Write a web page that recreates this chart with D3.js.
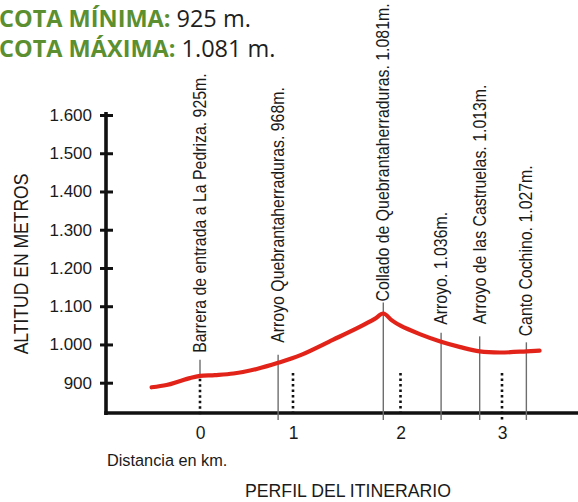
<!DOCTYPE html>
<html>
<head>
<meta charset="utf-8">
<script src="https://cdn.jsdelivr.net/npm/d3@7"></script>
<style>
  html, body { margin: 0; padding: 0; background: #fff; }
  svg { display: block; }
</style>
</head>
<body>
<script>
// Elevation profile of the route: distance (km) and altitude (m)
const profileKm   = [-0.52, -0.36, -0.22, -0.11, 0, 0.16, 0.36, 0.61, 0.84, 1.07, 1.37, 1.62, 1.76, 1.84, 1.92, 2.0, 2.19, 2.4, 2.59, 2.78, 2.98, 3.24, 3.37];
const profileElev = [888, 894, 904, 912, 918, 920, 924, 936, 952, 972, 1012, 1046, 1067, 1081, 1063, 1049, 1027, 1007, 993, 982, 979, 982, 984];

// Landmarks along the way
const stationNames = [
  "Barrera de entrada a La Pedriza.",
  "Arroyo Quebrantaherraduras.",
  "Collado de Quebrantaherraduras.",
  "Arroyo.",
  "Arroyo de las Castruelas.",
  "Canto Cochino."
];
const stationKm   = [0, 0.84, 1.84, 2.4, 2.78, 3.24];
const stationElev = [925, 968, 1081, 1036, 1013, 1027];

// Axis ticks
const yTicks = [900, 1000, 1100, 1200, 1300, 1400, 1500, 1600];
const xTicks = [0, 1, 2, 3];

// Text
const titleLabels = ["COTA MÍNIMA:", "COTA MÁXIMA:"];
const yTitle = "ALTITUD EN METROS";
const xTitle = "Distancia en km.";
const caption = "PERFIL DEL ITINERARIO";

// ---- layout ----
const W = 578, H = 502;
const axisX = 106, baseY = 413;
// how far above the curve each label starts, and the gap between label and its stem
const labelLift = [23, 20, 12, 17, 27, 15];
const stemGap   = [7, 12, 1, 8, 12, 6];
const squeeze = 0.835;   // horizontal compression for the narrow lettering

const plain = "'Liberation Sans', Arial, sans-serif";

const es = d3.formatLocale({ decimal: ",", thousands: ".", grouping: [3], currency: ["", "€"] });
const fmt = es.format(",d");

// the hand-drawn kilometre marks are not evenly spaced
const x = d3.scaleLinear().domain([0, 1, 2, 3]).range([200, 293, 400.5, 502]);
const y = d3.scaleLinear().domain([900, 1600]).range([382.7, 115]);

const svg = d3.select("body").append("svg")
  .attr("width", W).attr("height", H)
  .attr("viewBox", `0 0 ${W} ${H}`);
svg.append("rect").attr("width", W).attr("height", H).attr("fill", "#fff");

// elevation on the profile at a given distance
function elevAt(km) {
  const i = d3.bisectLeft(profileKm, km);
  if (i <= 0) return profileElev[0];
  if (i >= profileKm.length) return profileElev[profileElev.length - 1];
  const t = (km - profileKm[i - 1]) / (profileKm[i] - profileKm[i - 1]);
  return profileElev[i - 1] + t * (profileElev[i] - profileElev[i - 1]);
}

// ---- header ----
const minElev = d3.min(stationElev), maxElev = d3.max(stationElev);
const titleValues = [fmt(minElev) + " m.", fmt(maxElev) + " m."];
const header = svg.append("g");
titleLabels.forEach((lab, i) => {
  const t = header.append("text")
    .attr("x", -1).attr("y", 27 + i * 30)
    .attr("font-family", "'Open Sans', 'Noto Sans', sans-serif")
    .attr("font-size", 23.5);
  t.append("tspan").attr("font-weight", 700).attr("fill", "#5b8f2f").text(lab);
  t.append("tspan").attr("fill", "#1e1e1e").attr("dx", 6).text(titleValues[i]);
});

// ---- y axis ----
const gy = svg.append("g").attr("transform", `translate(${axisX},0)`)
  .call(d3.axisLeft(y).tickValues(yTicks).tickFormat(fmt).tickSize(6).tickPadding(8));
gy.select(".domain").remove();
gy.selectAll(".tick line")
  .attr("x1", 7).attr("x2", -6)
  .attr("stroke", "#111").attr("stroke-width", 3);
gy.selectAll(".tick text")
  .attr("font-family", plain).attr("font-size", 17)
  .attr("fill", "#1a1a1a");
svg.append("line")
  .attr("x1", axisX).attr("x2", axisX)
  .attr("y1", y(1600) - 3).attr("y2", baseY + 2)
  .attr("stroke", "#111").attr("stroke-width", 3.6);

svg.append("text")
  .attr("transform", `translate(28,264) rotate(-90) scale(${squeeze},1)`)
  .attr("text-anchor", "middle")
  .attr("font-family", plain).attr("font-size", 21)
  .attr("fill", "#1a1a1a")
  .text(yTitle);

// ---- x axis ----
svg.append("line")
  .attr("x1", axisX - 1.8).attr("x2", W)
  .attr("y1", baseY).attr("y2", baseY)
  .attr("stroke", "#111").attr("stroke-width", 3.6);

const gx = svg.append("g").attr("transform", `translate(0,${baseY})`)
  .call(d3.axisBottom(x).tickValues(xTicks).tickFormat(d3.format("d")).tickSize(0).tickPadding(14));
gx.select(".domain").remove();
gx.selectAll(".tick text")
  .attr("font-family", plain).attr("font-size", 17.5)
  .attr("fill", "#1a1a1a");

// dotted kilometre markers
svg.append("g").selectAll("line").data(xTicks).join("line")
  .attr("x1", d => x(d)).attr("x2", d => x(d))
  .attr("y1", d => Math.max(373, y(elevAt(d)) + 3))
  .attr("y2", (d, i) => i === xTicks.length - 1 ? baseY + 8 : baseY + 4)
  .attr("stroke", "#111").attr("stroke-width", 2.6)
  .attr("stroke-dasharray", "2.5,3");

svg.append("text")
  .attr("x", 107).attr("y", 466)
  .attr("font-family", plain).attr("font-size", 16.3)
  .attr("fill", "#1a1a1a")
  .text(xTitle);

svg.append("text")
  .attr("x", 348).attr("y", 497)
  .attr("text-anchor", "middle")
  .attr("font-family", plain).attr("font-size", 17.7)
  .attr("fill", "#1a1a1a")
  .text(caption);

// ---- landmarks ----
const stations = stationKm.map((km, i) => ({
  km, name: stationNames[i], elev: stationElev[i],
  curveY: y(elevAt(km)), lift: labelLift[i], gap: stemGap[i]
}));

const gs = svg.append("g");
gs.selectAll("line").data(stations).join("line")
  .attr("x1", d => x(d.km)).attr("x2", d => x(d.km))
  .attr("y1", d => d.curveY - d.lift + d.gap)
  .attr("y2", d => d.km === 0 ? d.curveY : baseY + 7)
  .attr("stroke", "#6e6e6e").attr("stroke-width", 1.4);

gs.selectAll("text").data(stations).join("text")
  .attr("transform", d => `translate(${x(d.km) + 6},${d.curveY - d.lift}) rotate(-90) scale(${squeeze},1)`)
  .attr("font-family", plain).attr("font-size", 19)
  .attr("fill", "#1a1a1a")
  .text(d => `${d.name} ${fmt(d.elev)}m.`);

// ---- profile ----
const line = d3.line()
  .x((d, i) => x(profileKm[i]))
  .y(d => y(d))
  .curve(d3.curveCatmullRom.alpha(0.5));

svg.append("path")
  .attr("d", line(profileElev))
  .attr("fill", "none")
  .attr("stroke", "#e2231a")
  .attr("stroke-width", 4.2)
  .attr("stroke-linecap", "round")
  .attr("stroke-linejoin", "round");
</script>
</body>
</html>
